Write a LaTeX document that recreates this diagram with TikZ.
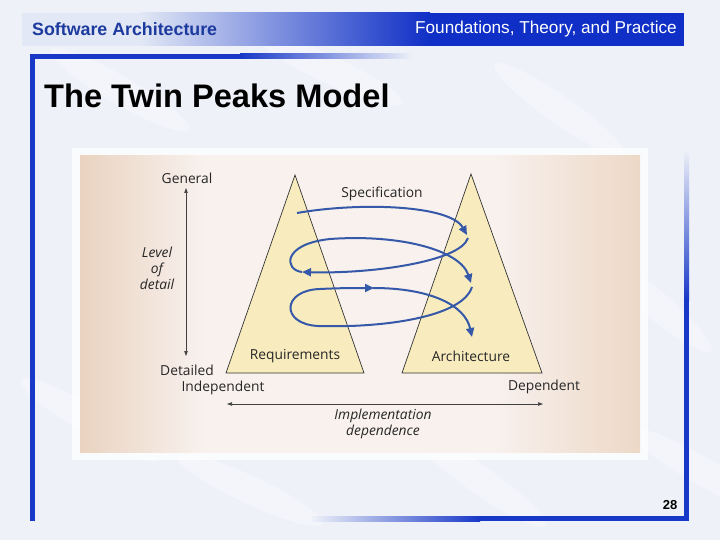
\documentclass[tikz,border=0pt]{standalone}
\usepackage{fontspec}
\setmainfont{Liberation Sans}
\newfontfamily\figfont{Open Sans}
\usetikzlibrary{arrows.meta}

\definecolor{slidebg}{HTML}{EEF1F8}
\definecolor{hdrlight}{HTML}{E2E8F5}
\definecolor{hdrblue}{HTML}{0F2FC6}
\definecolor{frameblue}{HTML}{1838C8}
\definecolor{titleblue}{HTML}{1D3A9E}
\definecolor{peakfill}{HTML}{F8ECBE}
\definecolor{spiralblue}{HTML}{3558A8}
\definecolor{boxtan}{HTML}{EAD3C0}
\definecolor{boxpale}{HTML}{F8F1EE}
\definecolor{boxtanr}{HTML}{EDD8C6}

\pgfdeclarehorizontalshading{panelshade}{100bp}{color(0bp)=(boxtan); color(25bp)=(boxtan);
  color(36bp)=(boxpale); color(62bp)=(boxpale); color(75bp)=(boxtanr); color(100bp)=(boxtanr)}

\tikzset{
  peak/.style={fill=peakfill, draw=black!80, line width=0.7pt},
  spiral/.style={spiralblue, line width=2pt, -{Triangle[length=9pt,width=8pt]}},
  axisarrow/.style={black!75, line width=0.6pt,
    {Triangle[length=5pt,width=3.5pt]}-{Triangle[length=5pt,width=3.5pt]}},
  figlabel/.style={font=\figfont\fontsize{13.8}{15}\selectfont, text=black!85, inner sep=0pt},
  figitalic/.style={figlabel, font=\figfont\itshape\fontsize{13.8}{16}\selectfont, align=center},
}

\begin{document}
\begin{tikzpicture}[x=1pt, y=-1pt]
    \useasboundingbox (0,0) rectangle (720,540);
    \fill[slidebg] (0,0) rectangle (720,540);

    % soft streaks in the background
    \foreach \cx/\cy/\rot in {120/90/-30, 330/70/-25, 560/110/-35, 650/300/-40,
                              90/420/-30, 250/490/-25, 480/480/-35, 700/470/-30} {
        \fill[white, opacity=0.3] (\cx,\cy) ellipse [x radius=80, y radius=14, rotate=\rot];
    }

    % header bar
    \fill[hdrlight] (22,13) rectangle (140,46);
    \shade[left color=hdrlight, right color=hdrblue] (140,13) rectangle (430,46);
    \fill[hdrblue] (430,13) rectangle (684,46);
    \node[anchor=west, font=\bfseries\fontsize{17.8}{20}\selectfont, text=titleblue, inner sep=0pt]
        (course) at (32,29) {Software Architecture};
    \node[anchor=east, font=\fontsize{17.2}{20}\selectfont, text=white, inner sep=0pt]
        (subtitle) at (677,29) {Foundations, Theory, and Practice};

    % content frame
    \fill[frameblue] (30,54) rectangle (35,521);
    \fill[frameblue] (30,54) rectangle (240,59);
    \shade[left color=frameblue, right color=slidebg] (240,54) rectangle (413,59);
    \shade[top color=slidebg, bottom color=frameblue] (684,150) rectangle (689,300);
    \fill[frameblue] (684,300) rectangle (689,521);
    \shade[left color=slidebg, right color=frameblue] (312,516) rectangle (480,521);
    \fill[frameblue] (480,516) rectangle (689,521);

    \node[anchor=base west, font=\bfseries\fontsize{32.6}{36}\selectfont, inner sep=0pt]
        (title) at (44,108) {The Twin Peaks Model};

    % figure panel
    \fill[white, opacity=0.75] (72,148) rectangle (648,460);
    \shade[shading=panelshade] (80,156) rectangle (640,452);

    \draw[peak] (295,175) -- (364,373) -- (226,373) -- cycle;
    \draw[peak] (471,174) -- (542,373) -- (402,373) -- cycle;

    \node[figlabel] (general) at (187,178) {General};
    \node[figlabel] (detailed) at (187,370) {Detailed};
    \node[figitalic] (lod) at (157,268) {Level\\of\\detail};
    \node[figlabel] (independent) at (223,388) {Independent};
    \node[figlabel] (dependent) at (544,387) {Dependent};
    \node[figlabel] (requirements) at (295,356) {Requirements};
    \node[figlabel] (architecture) at (471,356) {Architecture};
    \node[figlabel] (specification) at (382,194) {Specification};
    \node[figitalic] (impl) at (383,424) {Implementation\\dependence};

    \coordinate (lodtop) at (186,188);
    \coordinate (lodbottom) at (186,356);
    \coordinate (impleft) at (227,404);
    \coordinate (impright) at (543,404);
    \draw[axisarrow] (lodtop) -- (lodbottom);
    \draw[axisarrow] (impleft) -- (impright);

    % the spiral between the peaks
    \draw[spiral] (297,213) .. controls (360,202) and (450,205) .. (467,235);
    \draw[spiral] (468,238) .. controls (460,262) and (370,274) .. (302,272);
    \draw[spiral] (302,272) .. controls (284,270) and (282,244) .. (330,239)
        .. controls (400,234) and (460,250) .. (471,283);
    \draw[spiral] (472,287) .. controls (462,318) and (380,328) .. (318,326)
        .. controls (280,324) and (282,290) .. (320,289)
        .. controls (340,288) and (355,288) .. (374,288);
    \draw[spiral] (373,288) .. controls (430,288) and (465,305) .. (472,337);

    \node[font=\bfseries\fontsize{13}{15}\selectfont, inner sep=0pt] (pagenum) at (670,505) {28};
\end{tikzpicture}
\end{document}
